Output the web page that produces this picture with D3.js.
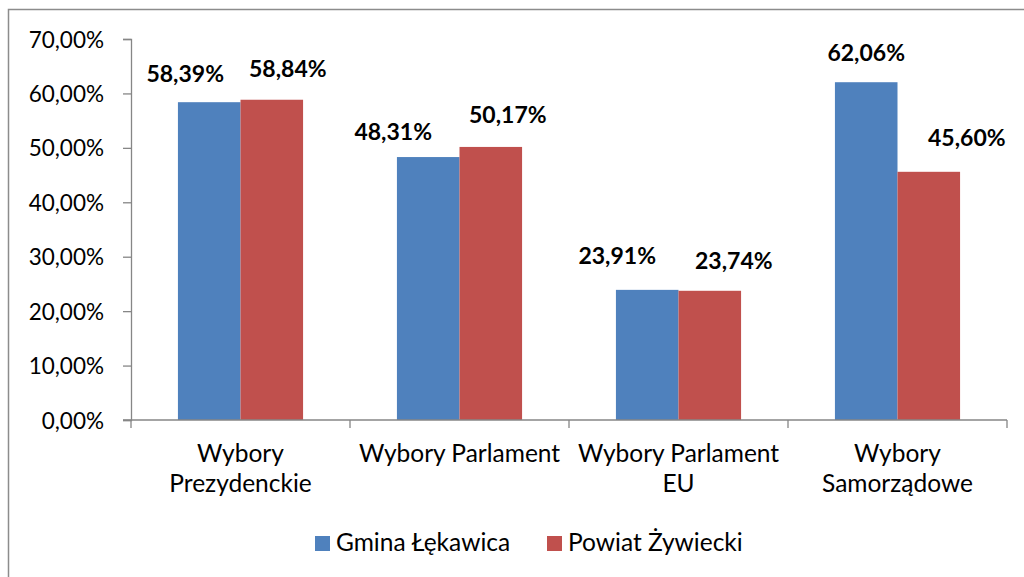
<!DOCTYPE html>
<html>
<head>
<meta charset="utf-8">
<script src="https://cdn.jsdelivr.net/npm/d3@7"></script>
<style>
  body { margin: 0; background: #fff; }
  svg text { font-family: Lato, "Open Sans", sans-serif; fill: #000; }
</style>
</head>
<body>
<div id="chart"></div>
<script>
// data
var categories = [["Wybory", "Prezydenckie"], ["Wybory Parlament"], ["Wybory Parlament", "EU"], ["Wybory", "Samorządowe"]];
var seriesNames = ["Gmina Łękawica", "Powiat Żywiecki"];
var gminaValues = [58.39, 48.31, 23.91, 62.06];
var powiatValues = [58.84, 50.17, 23.74, 45.60];
var yTicks = [0, 10, 20, 30, 40, 50, 60, 70];

// hand placed data labels (offset from the top middle of each bar)
var labelNudge = [
  [[-24, -20], [16, -23]],
  [[-35, -17], [17, -24]],
  [[-30, -26], [24, -22]],
  [[0, -21], [38, -26]]
];

var colors = ["#4F81BD", "#C0504D"];
var width = 1024, height = 577;

var svg = d3.select("#chart").append("svg")
    .attr("width", width)
    .attr("height", height);

// outer frame of the chart area (right and bottom edges fall outside)
svg.append("rect")
    .attr("x", 8.5).attr("y", 9.5)
    .attr("width", 1030).attr("height", 580)
    .attr("fill", "none")
    .attr("stroke", "#8c8c8c")
    .attr("stroke-width", 1.5);

var keys = categories.map(function (c) { return c.join(" "); });

var x0 = d3.scaleBand()
    .domain(keys)
    .range([131, 1007])
    .padding(0);

var x1 = d3.scaleBand()
    .domain(seriesNames)
    .range([0, x0.bandwidth()])
    .paddingInner(0)
    .paddingOuter(0.75);

var y = d3.scaleLinear()
    .domain([0, 70])
    .range([420, 39]);

var pl = d3.formatLocale({ decimal: ",", thousands: " ", grouping: [3], currency: ["", " zł"] });
var fmt = pl.format(".2f");

// y axis
var yAxis = svg.append("g")
    .attr("transform", "translate(131,0)")
    .call(d3.axisLeft(y).tickValues(yTicks).tickSize(8).tickPadding(19)
        .tickFormat(function (d) { return fmt(d) + "%"; }));
yAxis.select(".domain").attr("stroke", "#868686").attr("stroke-width", 1.3);
yAxis.selectAll(".tick line").attr("stroke", "#868686").attr("stroke-width", 1.3);
yAxis.selectAll("text").style("font-size", "22.5px").attr("fill", "#000").attr("dy", "0.36em");

// bars
var rows = keys.map(function (k, i) {
  return { key: k, vals: [gminaValues[i], powiatValues[i]] };
});

var groups = svg.selectAll(".grp")
    .data(rows)
    .join("g")
    .attr("class", "grp")
    .attr("transform", function (d) { return "translate(" + x0(d.key) + ",0)"; });

groups.selectAll("rect")
    .data(function (d) { return d.vals.map(function (v, j) { return { s: seriesNames[j], v: v, j: j }; }); })
    .join("rect")
    .attr("x", function (d) { return x1(d.s); })
    .attr("width", x1.bandwidth())
    .attr("y", function (d) { return y(d.v); })
    .attr("height", function (d) { return y(0) - y(d.v); })
    .attr("fill", function (d) { return colors[d.j]; });

// data labels
groups.each(function (d, i) {
  d3.select(this).selectAll(".lbl")
      .data(d.vals)
      .join("text")
      .attr("class", "lbl")
      .attr("x", function (v, j) { return x1(seriesNames[j]) + x1.bandwidth() / 2 + labelNudge[i][j][0]; })
      .attr("y", function (v, j) { return y(v) + labelNudge[i][j][1]; })
      .attr("text-anchor", "middle")
      .style("font-size", "23px")
      .style("font-weight", "bold")
      .text(function (v) { return fmt(v) + "%"; });
});

// x axis line and category boundary ticks
var xa = svg.append("g");
xa.append("line")
    .attr("x1", 123).attr("x2", x0.range()[1])
    .attr("y1", y(0)).attr("y2", y(0))
    .attr("stroke", "#868686").attr("stroke-width", 1.3);
var bounds = keys.map(function (k) { return x0(k); }).concat([x0.range()[1]]);
xa.selectAll(".xt")
    .data(bounds)
    .join("line")
    .attr("class", "xt")
    .attr("x1", function (d) { return d; }).attr("x2", function (d) { return d; })
    .attr("y1", y(0)).attr("y2", y(0) + 8)
    .attr("stroke", "#868686").attr("stroke-width", 1.3);

// category labels
var cl = svg.selectAll(".cat")
    .data(categories)
    .join("text")
    .attr("class", "cat")
    .attr("text-anchor", "middle")
    .attr("x", function (d, i) { return x0(keys[i]) + x0.bandwidth() / 2; })
    .attr("y", 462)
    .style("font-size", "24.5px");
cl.selectAll("tspan")
    .data(function (d) { return d; })
    .join("tspan")
    .attr("x", function () { return d3.select(this.parentNode).attr("x"); })
    .attr("dy", function (d, i) { return i ? 30 : 0; })
    .text(function (d) { return d; });

// legend
var legend = svg.append("g").attr("transform", "translate(315,536)");
var legX = [0, 232];
var li = legend.selectAll("g")
    .data(seriesNames)
    .join("g")
    .attr("transform", function (d, i) { return "translate(" + legX[i] + ",0)"; });
li.append("rect")
    .attr("width", 15).attr("height", 15)
    .attr("fill", function (d, i) { return colors[i]; });
li.append("text")
    .attr("x", 21).attr("y", 15)
    .style("font-size", "24.5px")
    .text(function (d) { return d; });
</script>
</body>
</html>
